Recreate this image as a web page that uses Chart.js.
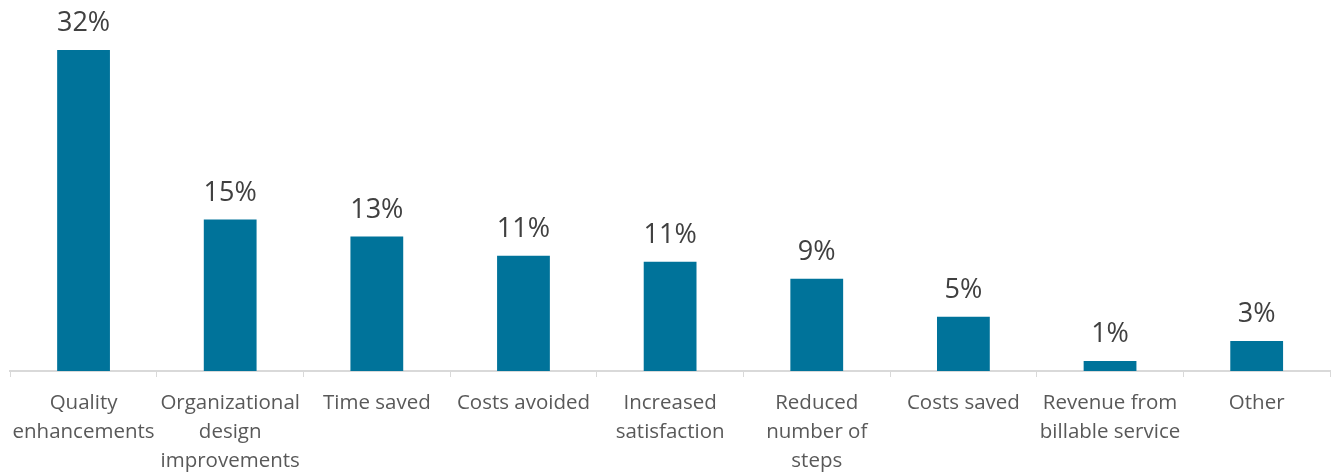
<!DOCTYPE html>
<html>
<head>
<meta charset="utf-8">
<script src="https://cdn.jsdelivr.net/npm/chart.js@4"></script>
<style>
  html, body { margin: 0; padding: 0; background: #fff; }
  #wrap { width: 1335px; height: 473px; position: relative; }
</style>
</head>
<body>
<div id="wrap"><canvas id="benefitChart"></canvas></div>
<script>
// Values (bar heights); labels are the printed rounded percents
const categories = [
  ['Quality', 'enhancements'],
  ['Organizational', 'design', 'improvements'],
  'Time saved',
  'Costs avoided',
  ['Increased', 'satisfaction'],
  ['Reduced', 'number of', 'steps'],
  'Costs saved',
  ['Revenue from', 'billable service'],
  'Other'
];
const shares = [32, 15.1, 13.4, 11.5, 10.9, 9.2, 5.4, 1.0, 3.0];
const shareLabels = ['32%', '15%', '13%', '11%', '11%', '9%', '5%', '1%', '3%'];

// draws the percent text above each bar
const valueLabels = {
  id: 'valueLabels',
  afterDatasetsDraw(chart) {
    const ctx = chart.ctx;
    const meta = chart.getDatasetMeta(0);
    ctx.save();
    ctx.font = '27px "Open Sans"';
    ctx.fillStyle = '#404040';
    ctx.textAlign = 'center';
    ctx.textBaseline = 'alphabetic';
    meta.data.forEach((bar, i) => {
      ctx.fillText(shareLabels[i], bar.x, bar.y - 19);
    });
    ctx.restore();
  }
};

new Chart(document.getElementById('benefitChart'), {
  type: 'bar',
  data: {
    labels: categories,
    datasets: [
      {
        data: shares,
        backgroundColor: '#00739A',
        barPercentage: 0.36,
        categoryPercentage: 1
      }
    ]
  },
  options: {
    responsive: true,
    maintainAspectRatio: false,
    animation: false,
    layout: { padding: { left: 9, right: 5, top: 50, bottom: 0 } },
    plugins: {
      legend: { display: false },
      tooltip: { enabled: false }
    },
    scales: {
      y: {
        display: false,
        min: 0,
        max: 32
      },
      x: {
        offset: true,
        grid: {
          offset: true,
          drawOnChartArea: false,
          drawTicks: true,
          tickLength: 6,
          color: '#d9d9d9'
        },
        border: { color: '#d9d9d9', width: 2 },
        ticks: {
          maxRotation: 0,
          autoSkip: false,
          padding: 12,
          color: '#595959',
          font: { family: 'Open Sans', size: 20.5, lineHeight: 1.41 }
        },
        afterFit(scale) {
          scale.height = 102;
        }
      }
    }
  },
  plugins: [valueLabels]
});
</script>
</body>
</html>
